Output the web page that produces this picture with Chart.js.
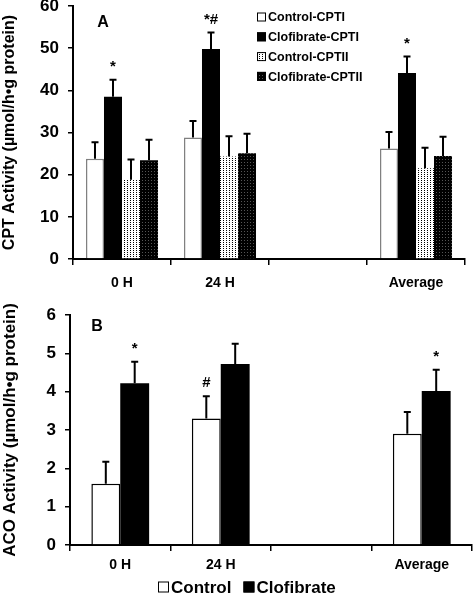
<!DOCTYPE html>
<html>
<head>
<meta charset="utf-8">
<script src="https://cdn.jsdelivr.net/npm/chart.js@4.4.1/dist/chart.umd.min.js"></script>
<style>
  body { margin: 0; background: #fff; }
  .panel { position: absolute; left: 0; width: 473px; height: 300px; }
</style>
</head>
<body>
<div class="panel" style="top:0"><canvas id="cptChart" width="473" height="300"></canvas></div>
<div class="panel" style="top:300px"><canvas id="acoChart" width="473" height="300"></canvas></div>
<script>
const fontFamily = '"Liberation Sans", Arial, sans-serif';
const hours = ['0 H', '24 H', '', 'Average'];

// panel A - CPT activity
const ctrlCpt1 = [23.8, 28.8, null, 26.2];
const ctrlCpt1Err = [3.9, 3.9, null, 3.9];
const clofCpt1 = [38.5, 49.8, null, 44.1];
const clofCpt1Err = [4.0, 3.9, null, 3.9];
const ctrlCpt2 = [18.8, 24.3, null, 21.5];
const ctrlCpt2Err = [4.8, 4.8, null, 4.9];
const clofCpt2 = [23.4, 25.1, null, 24.4];
const clofCpt2Err = [4.9, 4.6, null, 4.6];

// panel B - ACO activity
const ctrlAco = [1.6, 3.3, null, 2.9];
const ctrlAcoErr = [0.57, 0.58, null, 0.57];
const clofAco = [4.22, 4.72, null, 4.02];
const clofAcoErr = [0.56, 0.53, null, 0.55];

function dots(ctx, bg, fg, w, h) {
  const c = document.createElement('canvas');
  c.width = w; c.height = h;
  const g = c.getContext('2d');
  g.fillStyle = bg; g.fillRect(0, 0, w, h);
  g.fillStyle = fg; g.fillRect(1, 0, 1, 1);
  return ctx.createPattern(c, 'repeat');
}

const errorBars = {
  id: 'errorBars',
  afterDatasetsDraw(chart) {
    const ctx = chart.ctx;
    const y = chart.scales.y;
    chart.data.datasets.forEach((ds, di) => {
      chart.getDatasetMeta(di).data.forEach((bar, i) => {
        const v = ds.data[i], e = ds.errors[i];
        if (v == null || e == null) return;
        const top = y.getPixelForValue(v + e);
        ctx.save();
        ctx.strokeStyle = '#000';
        ctx.lineWidth = 2;
        ctx.beginPath();
        ctx.moveTo(bar.x, bar.y);
        ctx.lineTo(bar.x, top);
        ctx.moveTo(bar.x - 3.5, top);
        ctx.lineTo(bar.x + 3.5, top);
        ctx.stroke();
        ctx.restore();
      });
    });
  }
};

// stars / hashes above the error bars, plus the panel letter and legend
const extras = {
  id: 'extras',
  afterDraw(chart, args, opts) {
    const ctx = chart.ctx;
    const y = chart.scales.y;
    ctx.save();
    ctx.fillStyle = '#000';
    ctx.textAlign = 'center';
    ctx.textBaseline = 'middle';
    ctx.font = 'bold 15px ' + fontFamily;
    opts.marks.forEach(m => {
      const ds = chart.data.datasets[m.ds];
      const bar = chart.getDatasetMeta(m.ds).data[m.i];
      const top = y.getPixelForValue(ds.data[m.i] + ds.errors[m.i]);
      ctx.fillText(m.text, bar.x, top - 13);
    });
    ctx.font = 'bold 16px ' + fontFamily;
    ctx.fillText(opts.letter, opts.letterX, opts.letterY);

    const lg = opts.legend;
    ctx.textAlign = 'left';
    ctx.font = 'bold ' + lg.size + 'px ' + fontFamily;
    let x = lg.x, yy = lg.y;
    chart.data.datasets.forEach(ds => {
      ctx.fillStyle = ds.backgroundColor;
      ctx.fillRect(x, yy - lg.box / 2, lg.box, lg.box);
      ctx.strokeStyle = '#000';
      ctx.lineWidth = 1;
      ctx.strokeRect(x + 0.5, yy - lg.box / 2 + 0.5, lg.box - 1, lg.box - 1);
      ctx.fillStyle = '#000';
      ctx.fillText(ds.label, x + lg.box + 2, yy + 1);
      if (lg.horizontal) {
        x += lg.box + 2 + ctx.measureText(ds.label).width + 12;
      } else {
        yy += lg.dy;
      }
    });
    ctx.restore();
  }
};

function axes(yMax, yStep, title, titleSize, yWidth, xHeight, xPad) {
  return {
    x: {
      offset: true,
      grid: { display: true, drawOnChartArea: false, drawTicks: true, tickLength: 6, offset: true, color: '#000', lineWidth: 1.5 },
      border: { display: true, color: '#000', width: 2 },
      ticks: { color: '#000', padding: xPad, font: { family: fontFamily, size: 14, weight: 'bold' } },
      afterFit(s) { s.height = xHeight; }
    },
    y: {
      min: 0, max: yMax,
      grid: { display: true, drawOnChartArea: false, drawTicks: true, tickLength: 5, color: '#000', lineWidth: 1.5 },
      border: { display: true, color: '#000', width: 2 },
      ticks: { stepSize: yStep, color: '#000', padding: 9, font: { family: fontFamily, size: 17, weight: 'bold' } },
      title: { display: true, text: title, color: '#000', padding: 0, font: { family: fontFamily, size: titleSize, weight: 'bold' } },
      afterFit(s) { s.width = yWidth; s.paddingTop = 0; s.paddingBottom = 0; }
    }
  };
}

const ctxA = document.getElementById('cptChart').getContext('2d');
new Chart(ctxA, {
  type: 'bar',
  data: {
    labels: hours,
    datasets: [
      { label: 'Control-CPTI', data: ctrlCpt1, errors: ctrlCpt1Err, backgroundColor: '#fff', borderColor: '#808080', borderWidth: 1.5 },
      { label: 'Clofibrate-CPTI', data: clofCpt1, errors: clofCpt1Err, backgroundColor: '#000', borderColor: '#000', borderWidth: 0 },
      { label: 'Control-CPTII', data: ctrlCpt2, errors: ctrlCpt2Err, backgroundColor: dots(ctxA, '#fff', '#000', 3, 2), borderWidth: 0 },
      { label: 'Clofibrate-CPTII', data: clofCpt2, errors: clofCpt2Err, backgroundColor: dots(ctxA, '#000', '#555', 3, 3), borderWidth: 0 }
    ]
  },
  options: {
    responsive: false,
    animation: false,
    categoryPercentage: 0.735,
    barPercentage: 1.0,
    layout: { padding: { top: 6, right: 8, bottom: 0, left: 0 } },
    scales: axes(60, 10, 'CPT Activity (µmol/h•g protein)', 16, 73, 41, 10),
    plugins: {
      legend: { display: false },
      tooltip: { enabled: false },
      extras: {
        marks: [{ ds: 1, i: 0, text: '*' }, { ds: 1, i: 1, text: '*#' }, { ds: 1, i: 3, text: '*' }],
        letter: 'A', letterX: 103, letterY: 23,
        legend: { x: 257, y: 17, dy: 19.8, box: 9, size: 12.5, horizontal: false }
      }
    }
  },
  plugins: [errorBars, extras]
});

const ctxB = document.getElementById('acoChart').getContext('2d');
new Chart(ctxB, {
  type: 'bar',
  data: {
    labels: hours,
    datasets: [
      { label: 'Control', data: ctrlAco, errors: ctrlAcoErr, backgroundColor: '#fff', borderColor: '#000', borderWidth: 1.5 },
      { label: 'Clofibrate', data: clofAco, errors: clofAcoErr, backgroundColor: '#000', borderColor: '#000', borderWidth: 0 }
    ]
  },
  options: {
    responsive: false,
    animation: false,
    categoryPercentage: 0.575,
    barPercentage: 1.0,
    layout: { padding: { top: 15, right: 1, bottom: 0, left: 0 } },
    scales: axes(6, 1, 'ACO Activity (µmol/h•g protein)', 17, 70, 55, 6),
    plugins: {
      legend: { display: false },
      tooltip: { enabled: false },
      extras: {
        marks: [{ ds: 1, i: 0, text: '*' }, { ds: 0, i: 1, text: '#' }, { ds: 1, i: 3, text: '*' }],
        letter: 'B', letterX: 97, letterY: 27,
        legend: { x: 158, y: 287, box: 11, size: 17, horizontal: true }
      }
    }
  },
  plugins: [errorBars, extras]
});
</script>
</body>
</html>
